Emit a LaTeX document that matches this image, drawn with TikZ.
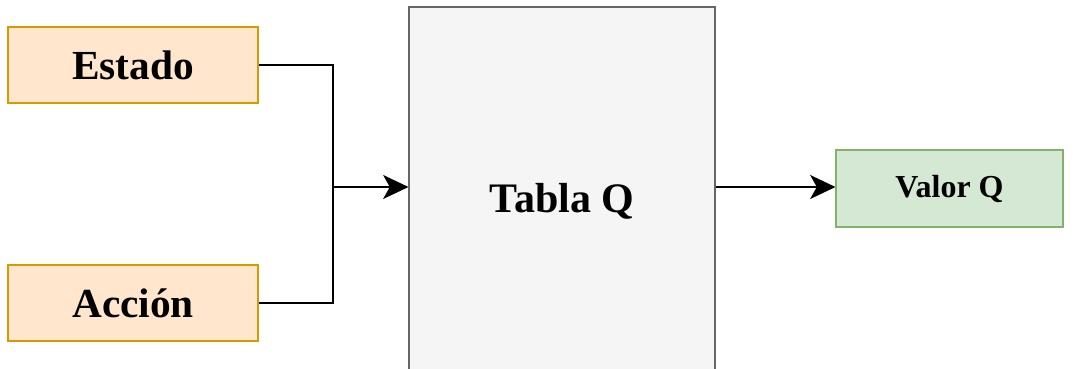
\documentclass[tikz,border=0pt]{standalone}
\usepackage{fontspec}
\setmainfont{Liberation Serif}
\usepackage{tikz}
\usetikzlibrary{arrows.meta}
\definecolor{InputFill}{HTML}{FFE6CC}
\definecolor{InputLine}{HTML}{D79B00}
\definecolor{TableFill}{HTML}{F5F5F5}
\definecolor{TableLine}{HTML}{666666}
\definecolor{OutputFill}{HTML}{D5E8D4}
\definecolor{OutputLine}{HTML}{82B366}

\begin{document}
\begin{tikzpicture}[x=0.75pt, y=-0.75pt,
    inputbox/.style={draw=InputLine, fill=InputFill, line width=0.8pt, minimum width=187.5pt, minimum height=57pt, font=\fontsize{31}{34}\selectfont\bfseries},
    flow/.style={line width=1.1pt},
    flowarrow/.style={flow, -{Stealth[length=19pt, width=18pt, inset=5pt]}}]
    \useasboundingbox (0,0) rectangle (1073,368);
    \clip (0,0) rectangle (1073,368);

    % Q table block (runs past the lower edge)
    \node[draw=TableLine, fill=TableFill, line width=0.8pt, minimum width=229.5pt, minimum height=291pt, font=\fontsize{31.5}{34}\selectfont\bfseries] (tabla) at (562,201) {Tabla Q};

    % Inputs
    \node[inputbox] (estado) at (133,65) {Estado};
    \node[inputbox] (accion) at (133,303) {Acción};

    % Output
    \node[draw=OutputLine, fill=OutputFill, line width=0.8pt, minimum width=170.25pt, minimum height=57.75pt, font=\fontsize{24}{28}\selectfont\bfseries] (valor) at (949.5,188.5) {Valor Q};

    % Connectors
    \coordinate (merge) at (333,187);
    \draw[flow] (estado.east) -| (merge);
    \draw[flow] (accion.east) -| (merge);
    \draw[flowarrow] (merge) -- (merge -| tabla.west);
    \draw[flowarrow] (merge -| tabla.east) -- (merge -| valor.west);
\end{tikzpicture}
\end{document}
